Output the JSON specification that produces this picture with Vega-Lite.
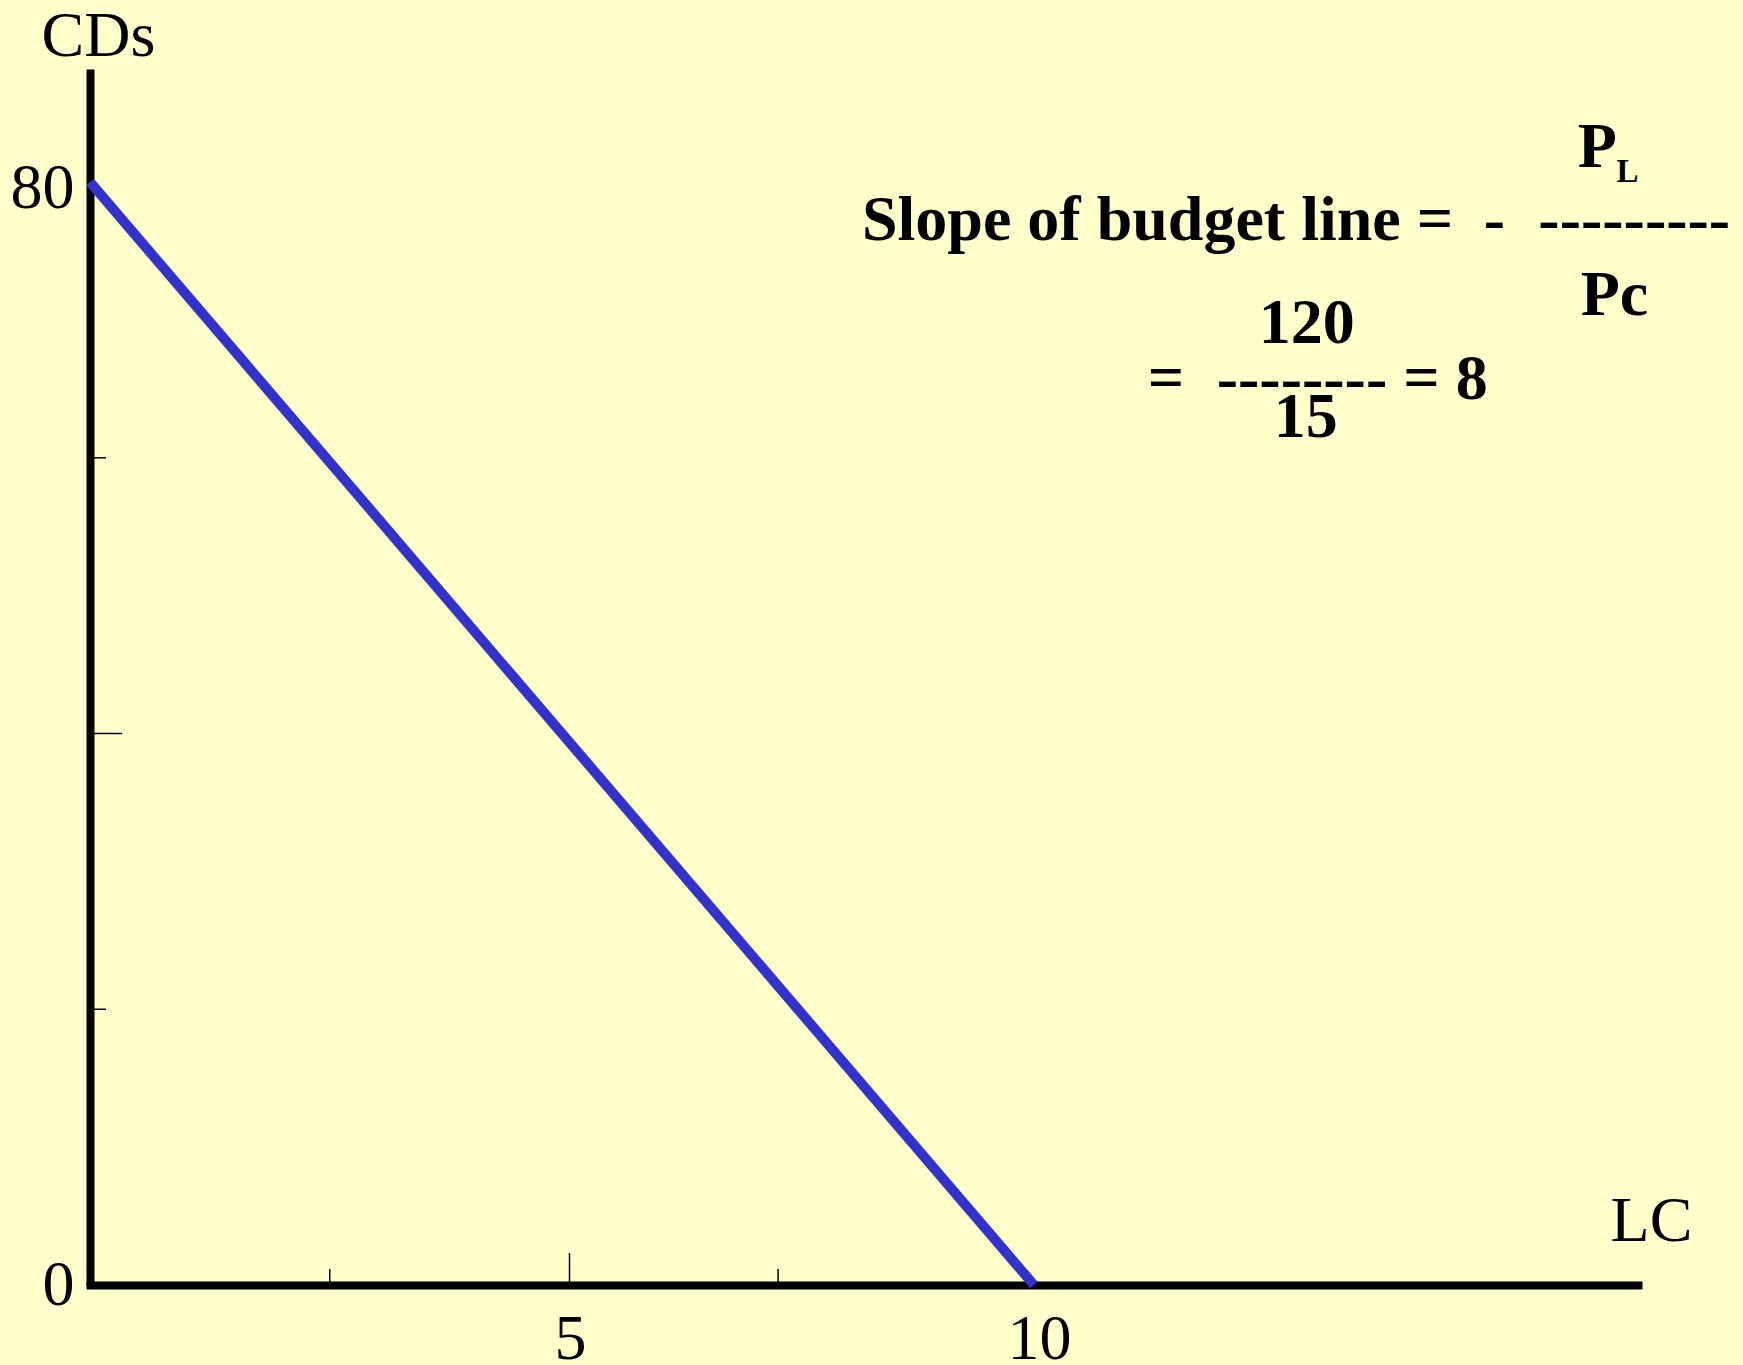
{
  "$schema": "https://vega.github.io/schema/vega-lite/v6.json",
  "autosize": "none",
  "width": 1548,
  "height": 1216,
  "padding": {"left": 90, "top": 69, "right": 105, "bottom": 80},
  "background": "#FFFFCC",
  "config": {"view": {"stroke": null}},
  "layer": [
    {
      "data": {"values": [{"x": 0, "y": 80}, {"x": 10, "y": 0}]},
      "mark": {"type": "line", "color": "#3333CC", "strokeWidth": 10, "strokeCap": "butt"},
      "encoding": {
        "x": {
          "field": "x", "type": "quantitative",
          "scale": {"domain": [0, 16.40], "nice": false, "zero": false},
          "axis": {
            "values": [5, 10], "format": "d", "ticks": false, "grid": false, "labelPadding": 22,
            "labelOffset": {"condition": {"test": "datum.value == 5", "value": 8}, "value": 5},
            "labelFont": "Liberation Serif", "labelFontSize": 64, "labelColor": "black",
            "labelFlush": false, "labelOverlap": false,
            "domainColor": "black", "domainWidth": 8, "domainCap": "square",
            "title": "LC", "titleFont": "Liberation Serif", "titleFontSize": 64,
            "titleFontWeight": "normal", "titleColor": "black",
            "titleX": 1561, "titleY": -45, "titleAlign": "center", "titleBaseline": "alphabetic", "titleAngle": 0
          }
        },
        "y": {
          "field": "y", "type": "quantitative",
          "scale": {"domain": [0, 88.2], "nice": false, "zero": false},
          "axis": {
            "values": [0, 80], "format": "d", "ticks": false, "grid": false, "labelPadding": 16,
            "labelOffset": {"condition": {"test": "datum.value == 80", "value": 6}, "value": 0},
            "labelFont": "Liberation Serif", "labelFontSize": 64, "labelColor": "black",
            "labelFlush": false, "labelOverlap": false, "labelBaseline": "middle",
            "domainColor": "black", "domainWidth": 8, "domainCap": "butt",
            "title": "CDs", "titleFont": "Liberation Serif", "titleFontSize": 64,
            "titleFontWeight": "normal", "titleColor": "black",
            "titleX": 8, "titleY": -14, "titleAlign": "center", "titleBaseline": "alphabetic", "titleAngle": 0
          }
        }
      }
    },
    {
      "data": {"values": [{"v": 20}, {"v": 60}]},
      "mark": {"type": "rule", "color": "black", "strokeWidth": 1.5},
      "encoding": {
        "y": {"field": "v", "type": "quantitative"},
        "x": {"datum": 0, "type": "quantitative"},
        "x2": {"datum": 0.17}
      }
    },
    {
      "data": {"values": [{"v": 40}]},
      "mark": {"type": "rule", "color": "black", "strokeWidth": 1.5},
      "encoding": {
        "y": {"field": "v", "type": "quantitative"},
        "x": {"datum": 0, "type": "quantitative"},
        "x2": {"datum": 0.34}
      }
    },
    {
      "data": {"values": [{"v": 2.54}, {"v": 7.29}]},
      "mark": {"type": "rule", "color": "black", "strokeWidth": 1.5},
      "encoding": {
        "x": {"field": "v", "type": "quantitative"},
        "y": {"datum": 0, "type": "quantitative"},
        "y2": {"datum": 1.16}
      }
    },
    {
      "data": {"values": [{"v": 5.08}]},
      "mark": {"type": "rule", "color": "black", "strokeWidth": 1.5},
      "encoding": {
        "x": {"field": "v", "type": "quantitative"},
        "y": {"datum": 0, "type": "quantitative"},
        "y2": {"datum": 2.32}
      }
    },
    {
      "data": {"values": [
        {"x": 11.31, "y": 75.78, "label": "Slope of budget line ="},
        {"x": 14.88, "y": 75.78, "label": "-"},
        {"x": 16.36, "y": 75.78, "label": "---------"},
        {"x": 15.97, "y": 81.07, "label": "P"},
        {"x": 16.15, "y": 70.34, "label": "Pc"},
        {"x": 11.40, "y": 64.25, "label": "="},
        {"x": 12.84, "y": 64.25, "label": "--------"},
        {"x": 14.36, "y": 64.25, "label": "= 8"},
        {"x": 12.89, "y": 68.31, "label": "120"},
        {"x": 12.88, "y": 61.49, "label": "15"}
      ]},
      "mark": {"type": "text", "font": "Liberation Serif", "fontWeight": "bold", "fontSize": 64, "color": "black", "align": "center", "baseline": "alphabetic"},
      "encoding": {
        "x": {"field": "x", "type": "quantitative"},
        "y": {"field": "y", "type": "quantitative"},
        "text": {"field": "label"}
      }
    },
    {
      "data": {"values": [{"x": 16.29, "y": 80.0, "label": "L"}]},
      "mark": {"type": "text", "font": "Liberation Serif", "fontWeight": "bold", "fontSize": 33, "color": "black", "align": "center", "baseline": "alphabetic"},
      "encoding": {
        "x": {"field": "x", "type": "quantitative"},
        "y": {"field": "y", "type": "quantitative"},
        "text": {"field": "label"}
      }
    }
  ]
}
